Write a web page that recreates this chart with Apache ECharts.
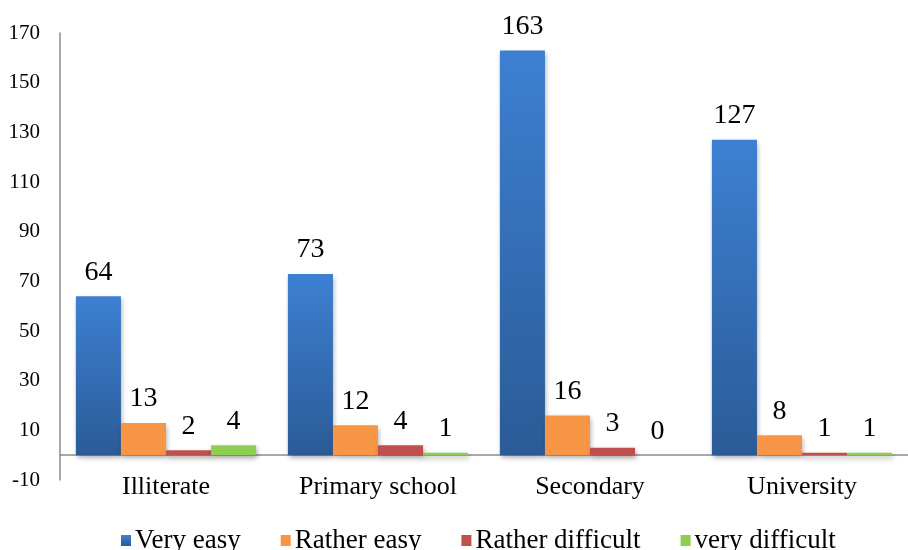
<!DOCTYPE html>
<html>
<head>
<meta charset="utf-8">
<title>Chart</title>
<script src="https://cdn.jsdelivr.net/npm/echarts@6/dist/echarts.min.js"></script>
<style>
  html, body { margin: 0; padding: 0; background: #fff; }
  #chart { width: 908px; height: 550px; }
</style>
</head>
<body>
<div id="chart"></div>
<script>
const categories = ["Illiterate", "Primary school", "Secondary", "University"];
const legendNames = ["Very easy", "Rather easy", "Rather difficult", "very difficult"];
const veryEasy = [64, 73, 163, 127];
const ratherEasy = [13, 12, 16, 8];
const ratherDifficult = [2, 4, 3, 1];
const veryDifficult = [4, 1, 0, 1];
const yMin = -10;
const yMax = 170;
const yStep = 20;

const FONT = "Liberation Serif";

function barSeries(name, data, color) {
  return {
    name: name,
    type: "bar",
    data: data,
    barGap: "0%",
    barCategoryGap: "15%",
    itemStyle: {
      color: color,
      shadowColor: "rgba(0,0,0,0.35)",
      shadowBlur: 5,
      shadowOffsetX: 1,
      shadowOffsetY: 3,
    },
    label: {
      show: true,
      position: "top",
      distance: 10,
      color: "#000",
      fontFamily: FONT,
      fontSize: 28,
    },
  };
}

let chart = echarts.init(document.getElementById("chart"));

function setOptions() {
  let blue = new echarts.graphic.LinearGradient(0, 0, 0, 1, [
    { offset: 0, color: "#3d80d2" },
    { offset: 1, color: "#2b5b97" },
  ]);
  chart.setOption({
    animation: false,
    grid: {
      left: 60,
      top: 33,
      bottom: 70,
      width: 860,
      containLabel: false,
    },
    legend: {
      data: legendNames,
      top: 522,
      left: 116,
      itemWidth: 10,
      itemHeight: 11,
      itemGap: 40,
      icon: "rect",
      selectedMode: false,
      textStyle: {
        fontFamily: FONT,
        fontSize: 27,
        color: "#000",
        padding: [0, 0, 0, -1],
      },
    },
    xAxis: {
      type: "category",
      data: categories,
      axisLine: { onZero: true, lineStyle: { color: "#8c8c8c", width: 1.5 } },
      axisTick: { show: false },
      axisLabel: {
        margin: -6,
        color: "#000",
        fontFamily: FONT,
        fontSize: 26,
      },
    },
    yAxis: {
      type: "value",
      min: yMin,
      max: yMax,
      interval: yStep,
      axisLine: { show: true, lineStyle: { color: "#8c8c8c", width: 1.5 } },
      axisTick: { show: false },
      splitLine: { show: false },
      axisLabel: {
        margin: 20,
        color: "#000",
        fontFamily: FONT,
        fontSize: 21,
      },
    },
    series: [
      barSeries(legendNames[0], veryEasy, blue),
      barSeries(legendNames[1], ratherEasy, "#f79646"),
      barSeries(legendNames[2], ratherDifficult, "#c0504d"),
      barSeries(legendNames[3], veryDifficult, "#8fcf4f"),
    ],
  });
}

setOptions();
</script>
</body>
</html>
